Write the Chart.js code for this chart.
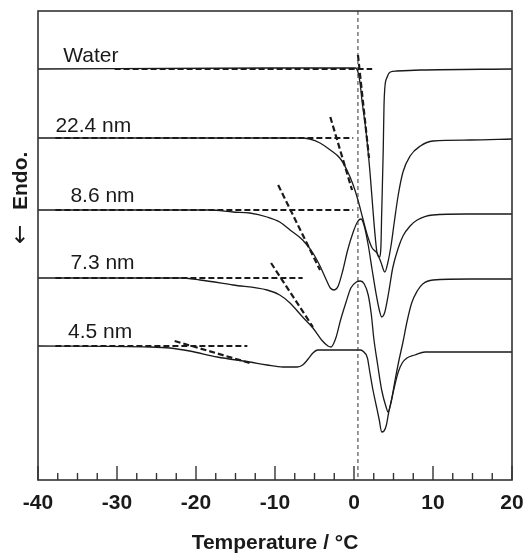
<!DOCTYPE html>
<html>
<head>
<meta charset="utf-8">
<script src="https://cdn.jsdelivr.net/npm/chart.js@4"></script>
<style>
  html, body { margin: 0; padding: 0; background: #fff; }
  #wrap { width: 528px; height: 554px; }
</style>
</head>
<body>
<div id="wrap"><canvas id="dsc"></canvas></div>
<script>
// DSC melting curves, stacked. T in °C, Q = heat flow (arb. units, offset per curve)
const waterT = [-40, -10.6, 0.2, 0.5, 0.8, 1.0, 1.5, 2.0, 2.4, 2.7, 2.9, 3.2, 3.4, 3.5, 3.7, 3.8, 3.9, 4.2, 4.6, 5.4, 8.4, 20];
const waterQ = [41.1, 41.2, 41.2, 40.8, 39.5, 38.0, 35.0, 31.0, 27.0, 24.2, 22.8, 22.3, 23.2, 26.5, 33.0, 37.5, 39.2, 40.3, 40.8, 40.9, 41.0, 41.1];

const p224T = [-40, -6.8, -5.6, -4.3, -3.0, -1.8, -0.9, -0.1, 0.5, 1.1, 1.8, 2.3, 2.9, 3.4, 3.9, 4.3, 4.7, 5.1, 5.6, 6.2, 7.1, 8.4, 10.0, 14.7, 20];
const p224Q = [34.2, 34.2, 34.1, 33.7, 33.0, 32.2, 31.0, 29.5, 28.0, 26.2, 24.2, 23.2, 22.7, 21.8, 20.8, 21.8, 23.5, 25.8, 28.5, 30.8, 32.4, 33.4, 33.9, 34.0, 34.1];

const p86T = [-40, -18.2, -15.3, -13.2, -11.0, -9.4, -8.1, -6.5, -5.2, -4.3, -3.5, -3.0, -2.5, -2.0, -1.4, -0.8, -0.1, 0.5, 0.9, 1.3, 1.8, 2.3, 2.8, 3.2, 3.5, 3.9, 4.4, 4.9, 5.6, 6.2, 7.1, 8.0, 10.0, 14.3, 20];
const p86Q = [27.0, 27.0, 26.8, 26.7, 26.3, 25.8, 25.0, 24.0, 22.7, 21.4, 20.0, 19.2, 19.0, 19.4, 21.0, 23.0, 24.8, 25.9, 26.1, 25.4, 23.5, 21.0, 18.6, 17.0, 16.3, 16.8, 18.8, 21.2, 23.2, 24.4, 25.4, 26.0, 26.5, 26.6, 26.6];

const p73T = [-40, -22.0, -19.5, -15.3, -11.0, -9.4, -8.1, -6.5, -5.2, -4.1, -3.3, -2.9, -2.3, -1.7, -1.0, -0.4, 0.3, 0.8, 1.3, 1.8, 2.2, 2.5, 3.0, 3.5, 4.1, 4.3, 4.7, 5.2, 5.7, 6.2, 6.7, 7.3, 8.0, 8.7, 10.0, 14.7, 20];
const p73Q = [20.2, 20.2, 20.0, 19.5, 19.0, 18.5, 17.7, 16.3, 15.2, 14.0, 13.4, 13.3, 14.2, 16.0, 17.8, 19.2, 19.8, 19.9, 19.6, 18.5, 16.5, 14.2, 11.5, 9.0, 7.2, 6.8, 7.8, 10.0, 12.0, 13.8, 15.8, 17.7, 18.9, 19.6, 20.0, 20.1, 20.1];

const p45T = [-40, -25.8, -23.3, -20.8, -17.3, -13.2, -11.0, -9.0, -7.2, -6.5, -5.8, -5.2, -4.6, -3.7, -1.8, 0.8, 1.1, 1.7, 2.0, 2.4, 2.8, 3.2, 3.5, 3.8, 4.1, 4.4, 4.8, 5.2, 5.6, 6.1, 6.7, 7.7, 9.0, 14.7, 20];
const p45Q = [13.4, 13.3, 13.2, 12.9, 12.3, 11.8, 11.5, 11.3, 11.3, 11.5, 12.1, 12.7, 13.0, 13.0, 13.0, 13.0, 12.9, 12.2, 10.8, 9.0, 7.5, 6.0, 4.8, 4.9, 5.5, 6.8, 8.2, 9.6, 10.8, 11.7, 12.2, 12.5, 12.8, 12.8, 12.8];

// onset construction lines (baseline + leading-edge tangent), endpoints in T / Q
const guideT = [[-30.3, 2.3], [0.5, 1.9], [-37.8, -0.1], [-3.0, -0.25], [-37.8, -0.1], [-9.6, -4.3], [-37.8, -6.5], [-10.5, -5.2], [-37.8, -13.5], [-22.7, -13.2]];
const guideQ = [[41.1, 41.1], [42.5, 32.2], [34.2, 34.2], [36.3, 29.0], [27.0, 27.0], [29.5, 21.0], [20.2, 20.2], [21.7, 15.3], [13.4, 13.4], [13.9, 11.7]];

const meltT = 0.5;               // vertical reference line
const meltQ = [46.9, 0.3];

const curveNames = ["Water", "22.4 nm", "8.6 nm", "7.3 nm", "4.5 nm"];
const labelT = [-36.8, -37.8, -35.9, -35.9, -36.2];
const labelQ = [41.8, 34.8, 27.8, 21.1, 14.2];

const majorTicks = [-40, -30, -20, -10, 0, 10, 20];

const zip = (xs, ys) => xs.map((x, i) => ({ x, y: ys[i] }));
const INK = "#1a1a1a";
const FONT = '"Liberation Sans", Arial, Helvetica, sans-serif';

const curves = [[waterT, waterQ], [p224T, p224Q], [p86T, p86Q], [p73T, p73Q], [p45T, p45Q]].map(([t, q], i) => ({
  label: curveNames[i],
  data: zip(t, q),
  showLine: true,
  borderColor: INK,
  borderWidth: 1.3,
  pointRadius: 0,
  cubicInterpolationMode: "monotone",
}));

const guides = guideT.map((t, i) => ({
  label: "guide" + i,
  data: zip(t, guideQ[i]),
  showLine: true,
  borderColor: INK,
  borderWidth: 2.2,
  borderDash: [6, 3],
  pointRadius: 0,
}));

const meltLine = {
  label: "melt",
  data: zip([meltT, meltT], meltQ),
  showLine: true,
  borderColor: "#333",
  borderWidth: 1,
  borderDash: [4, 3],
  pointRadius: 0,
};

const decor = {
  id: "decor",
  afterDraw(chart) {
    const { ctx, chartArea: a, scales: { x, y } } = chart;
    ctx.save();
    // frame
    ctx.strokeStyle = "#333";
    ctx.lineWidth = 1.6;
    ctx.strokeRect(a.left, a.top, a.right - a.left, a.bottom - a.top);
    // inward ticks
    ctx.lineWidth = 1.4;
    x.ticks.forEach(t => {
      const px = x.getPixelForValue(t.value);
      const len = majorTicks.includes(t.value) ? 14 : 7;
      ctx.beginPath();
      ctx.moveTo(px, a.bottom);
      ctx.lineTo(px, a.bottom - len);
      ctx.stroke();
    });
    // curve labels
    ctx.fillStyle = INK;
    ctx.font = "21px " + FONT;
    ctx.textAlign = "left";
    ctx.textBaseline = "alphabetic";
    curveNames.forEach((n, i) => {
      ctx.fillText(n, x.getPixelForValue(labelT[i]), y.getPixelForValue(labelQ[i]));
    });
    // y title: arrow + Endo.
    ctx.translate(21, 244);
    ctx.rotate(-Math.PI / 2);
    ctx.textBaseline = "middle";
    ctx.font = '23px "DejaVu Sans", sans-serif';
    ctx.fillText("\u2190", 0, 0);
    ctx.font = "bold 21px " + FONT;
    ctx.fillText("Endo.", 34, 0);
    ctx.restore();
  }
};

new Chart(document.getElementById("dsc"), {
  type: "scatter",
  data: { datasets: [...guides, meltLine, ...curves] },
  options: {
    responsive: true,
    maintainAspectRatio: false,
    animation: false,
    layout: { padding: { left: 38, right: 16, top: 11, bottom: 0 } },
    plugins: { legend: { display: false }, tooltip: { enabled: false } },
    scales: {
      x: {
        type: "linear",
        min: -40,
        max: 20,
        grid: { display: false, drawTicks: false },
        border: { display: false },
        ticks: {
          stepSize: 2.5,
          autoSkip: false,
          maxRotation: 0,
          padding: 11,
          color: INK,
          font: { family: FONT, size: 21, weight: "bold" },
          callback: v => majorTicks.includes(v) ? String(v) : "",
        },
        title: {
          display: true,
          text: "Temperature / °C",
          color: INK,
          font: { family: FONT, size: 21, weight: "bold" },
          padding: { top: 0, bottom: -2 },
        },
        afterFit: s => { s.height = 74; s.paddingLeft = 0; s.paddingRight = 12; },
      },
      y: { display: false, min: 0, max: 46.9 },
    },
  },
  plugins: [decor],
});
</script>
</body>
</html>
